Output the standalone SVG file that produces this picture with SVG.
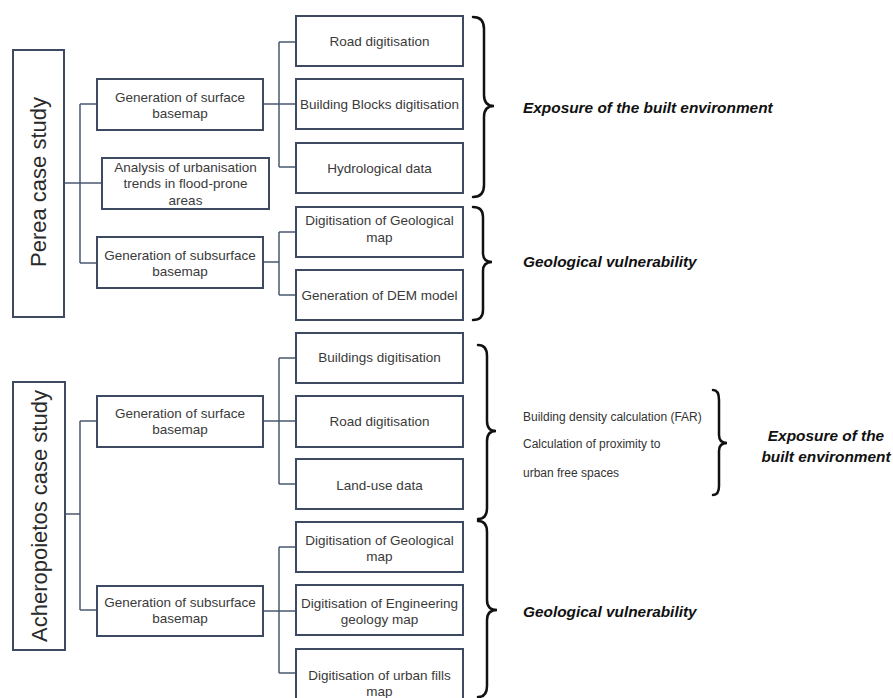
<svg xmlns="http://www.w3.org/2000/svg" width="893" height="698" viewBox="0 0 893 698">
<style>
.box{fill:#fff;stroke:#3d4a62;stroke-width:2}
.t{font-family:"Liberation Sans",Arial,sans-serif;font-size:13.5px;fill:#3a3a3a;text-anchor:middle}
.big{font-family:"Liberation Sans",Arial,sans-serif;font-size:22px;fill:#2a2a2a;text-anchor:middle}
.lab{font-family:"Liberation Sans",Arial,sans-serif;font-size:15.4px;font-weight:bold;font-style:italic;fill:#111}
.sm{font-family:"Liberation Sans",Arial,sans-serif;font-size:12px;fill:#333}
.con{fill:none;stroke:#4a5870;stroke-width:1.5}
.brace{fill:none;stroke:#111;stroke-width:2.5;stroke-linecap:round}
</style>
<rect width="893" height="698" fill="#fff"/>
<g id="connectors">
<path class="con" d="M64,183 H102 M80,104 V263 M80,104 H97 M80,263 H97"/>
<path class="con" d="M263,104 H296 M279,42 V167 M279,42 H296 M279,167 H296"/>
<path class="con" d="M263,262 H279 M279,232 V295 M279,232 H296 M279,295 H296"/>
<path class="con" d="M65,514 H80 M80,421 V610 M80,421 H97 M80,610 H97"/>
<path class="con" d="M263,421 H296 M279,358 V484 M279,358 H296 M279,484 H296"/>
<path class="con" d="M263,611 H296 M279,547 V673 M279,547 H296 M279,673 H296"/>
</g>
<g id="perea"><rect class="box" x="13" y="50" width="51" height="267"/><text class="big" transform="translate(38,182) rotate(-90)" x="0" y="8">Perea case study</text></g>
<g id="p-surface"><rect class="box" x="97" y="79" width="166" height="51"/><text class="t" x="180" y="102">Generation of surface</text><text class="t" x="180" y="118">basemap</text></g>
<g id="p-analysis"><rect class="box" x="102" y="158" width="167" height="51"/><text class="t" x="185.5" y="172">Analysis of urbanisation</text><text class="t" x="185.5" y="188">trends in flood-prone</text><text class="t" x="185.5" y="205">areas</text></g>
<g id="p-subsurface"><rect class="box" x="97" y="237" width="166" height="51"/><text class="t" x="180" y="260">Generation of subsurface</text><text class="t" x="180" y="276">basemap</text></g>
<g id="p-road"><rect class="box" x="296" y="16" width="167" height="50"/><text class="t" x="379.5" y="46">Road digitisation</text></g>
<g id="p-blocks"><rect class="box" x="296" y="79" width="167" height="50"/><text class="t" x="379.5" y="109">Building Blocks digitisation</text></g>
<g id="p-hydro"><rect class="box" x="296" y="143" width="167" height="50"/><text class="t" x="379.5" y="173">Hydrological data</text></g>
<g id="p-geo"><rect class="box" x="296" y="207" width="167" height="50"/><text class="t" x="379.5" y="225">Digitisation of Geological</text><text class="t" x="379.5" y="242">map</text></g>
<g id="p-dem"><rect class="box" x="296" y="270" width="167" height="50"/><text class="t" x="379.5" y="300">Generation of DEM model</text></g>
<g id="acheropoietos"><rect class="box" x="13" y="382" width="52" height="268"/><text class="big" transform="translate(39,516) rotate(-90)" x="0" y="8">Acheropoietos case study</text></g>
<g id="a-surface"><rect class="box" x="97" y="396" width="166" height="51"/><text class="t" x="180" y="418">Generation of surface</text><text class="t" x="180" y="434">basemap</text></g>
<g id="a-subsurface"><rect class="box" x="97" y="586" width="166" height="50"/><text class="t" x="180" y="607">Generation of subsurface</text><text class="t" x="180" y="623">basemap</text></g>
<g id="a-buildings"><rect class="box" x="296" y="333" width="167" height="50"/><text class="t" x="379.5" y="362">Buildings digitisation</text></g>
<g id="a-road"><rect class="box" x="296" y="396" width="167" height="51"/><text class="t" x="379.5" y="426">Road digitisation</text></g>
<g id="a-landuse"><rect class="box" x="296" y="459" width="167" height="50"/><text class="t" x="379.5" y="490">Land-use data</text></g>
<g id="a-geo"><rect class="box" x="296" y="522" width="167" height="50"/><text class="t" x="379.5" y="545">Digitisation of Geological</text><text class="t" x="379.5" y="561">map</text></g>
<g id="a-eng"><rect class="box" x="296" y="585" width="167" height="50"/><text class="t" x="379.5" y="608">Digitisation of Engineering</text><text class="t" x="379.5" y="624">geology map</text></g>
<g id="a-fills"><rect class="box" x="296" y="649" width="167" height="60"/><text class="t" x="379.5" y="680">Digitisation of urban fills</text><text class="t" x="379.5" y="696">map</text></g>
<g id="braces">
<path class="brace" d="M473,17 Q484,17 484,29 L484,95 Q484,106 494,106 Q484,106 484,117 L484,185 Q484,197 473,197"/>
<path class="brace" d="M473,207 Q483,207 483,217 L483,253 Q483,262 492,262 Q483,262 483,271 L483,310 Q483,320 473,320"/>
<path class="brace" d="M478,345 Q487,345 487,356 L487,421 Q487,431 496,431 Q487,431 487,441 L487,508 Q487,519 478,519"/>
<path class="brace" d="M478,521 Q487,521 487,532 L487,600 Q487,610 497,610 Q487,610 487,620 L487,686 Q487,697 478,697"/>
<path class="brace" d="M713,390 Q719,390 719,400 L719,435 Q719,443 727,443 Q719,443 719,451 L719,486 Q719,495 713,495"/>
</g>
<g id="labels">
<text class="lab" x="523" y="113">Exposure of the built environment</text>
<text class="lab" x="523" y="267">Geological vulnerability</text>
<text class="sm" x="523" y="421">Building density calculation (FAR)</text>
<text class="sm" x="523" y="448">Calculation of proximity to</text>
<text class="sm" x="523" y="477">urban free spaces</text>
<text class="lab" x="826" y="441" text-anchor="middle">Exposure of the</text>
<text class="lab" x="826" y="462" text-anchor="middle">built environment</text>
<text class="lab" x="523" y="617">Geological vulnerability</text>
</g>
</svg>
